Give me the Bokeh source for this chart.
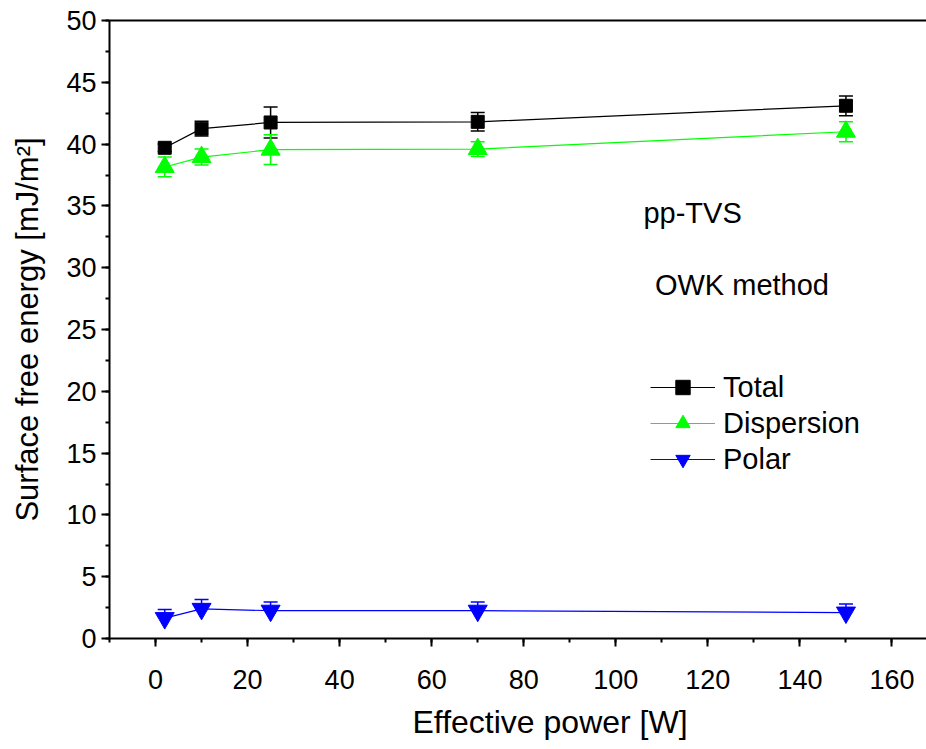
from bokeh.plotting import figure
from bokeh.models import (Range1d, SingleIntervalTicker, FixedTicker, LinearAxis, Whisker,
                          ColumnDataSource, TeeHead, Label, Legend, LegendItem, Title)
from bokeh.embed import file_html
from bokeh.resources import INLINE

# ---- data ----
power = [2, 10, 25, 70, 150]
total = [39.7, 41.25, 41.75, 41.8, 43.1]
total_err = [0.3, 0.6, 1.25, 0.75, 0.8]
dispersion = [38.15, 38.95, 39.55, 39.6, 41.0]
dispersion_err = [0.8, 0.65, 1.2, 0.6, 0.8]
polar = [1.65, 2.4, 2.25, 2.25, 2.1]
polar_err = [0.7, 0.75, 0.7, 0.7, 0.7]

series_names = ["Total", "Dispersion", "Polar"]
x_title = "Effective power [W]"
y_title = "Surface free energy [mJ/m²]"
x_ticks_interval = 20
y_ticks_interval = 5

FONT = "Liberation Sans"

p = figure(width=926, height=749, x_range=Range1d(-10, 167.5), y_range=Range1d(0, 50),
           output_backend="svg", toolbar_location=None,
           min_border_left=109, min_border_right=0, min_border_top=20, min_border_bottom=111)
p.grid.visible = False
p.outline_line_color = None
p.background_fill_color = "white"
p.border_fill_color = "white"

p.xaxis.ticker = SingleIntervalTicker(interval=x_ticks_interval, num_minor_ticks=2)
p.yaxis.ticker = SingleIntervalTicker(interval=y_ticks_interval, num_minor_ticks=2)
for ax in (p.xaxis, p.yaxis):
    ax.axis_line_width = 2
    ax.major_tick_line_width = 2
    ax.minor_tick_line_width = 2
    ax.major_tick_out = 8
    ax.major_tick_in = 0
    ax.minor_tick_out = 4
    ax.minor_tick_in = 0
    ax.major_label_text_font = FONT
    ax.major_label_text_font_size = "27px"
    ax.major_label_text_color = "black"
    ax.axis_label_text_font = FONT
    ax.axis_label_text_font_style = "normal"
    ax.axis_label_text_color = "black"

p.xaxis.major_label_standoff = 23
p.yaxis.axis_label = y_title
p.yaxis.axis_label_text_font_size = "31px"
p.yaxis.major_label_standoff = 5
p.yaxis.axis_label_standoff = 18

top_axis = LinearAxis(ticker=FixedTicker(ticks=[]), major_label_text_font_size="0px",
                      axis_line_width=2, major_tick_out=0, minor_tick_out=0,
                      major_tick_in=0, minor_tick_in=0)
p.add_layout(top_axis, "above")

# x-axis title, placed like the original (whose frame runs past the right edge)
p.add_layout(Title(text=x_title, align="left", offset=303, standoff=20,
                   text_font=FONT, text_font_size="32px", text_font_style="normal",
                   text_color="black"), "below")


def add_series(y, err, color, marker, size, lower_cap=True):
    src = ColumnDataSource(dict(x=power, y=y,
                                lo=[a - b for a, b in zip(y, err)],
                                hi=[a + b for a, b in zip(y, err)]))
    w = Whisker(source=src, base="x", upper="hi", lower="lo",
                line_color=color, line_width=1.5, level="glyph",
                upper_head=TeeHead(size=14, line_color=color, line_width=1.5),
                lower_head=TeeHead(size=14, line_color=color, line_width=1.5) if lower_cap else None)
    p.add_layout(w)
    rl = p.line("x", "y", source=src, line_color=color, line_width=1.2)
    rs = p.scatter("x", "y", source=src, marker=marker, size=size,
                   fill_color=color, line_color=color)
    return [rl, rs]


r_total = add_series(total, total_err, "black", "square", 13)
r_disp = add_series(dispersion, dispersion_err, "#00ff00", "triangle", 19)
r_polar = add_series(polar, polar_err, "#0000ff", "inverted_triangle", 19, lower_cap=False)

legend = Legend(items=[LegendItem(label=series_names[0], renderers=r_total),
                       LegendItem(label=series_names[1], renderers=r_disp),
                       LegendItem(label=series_names[2], renderers=r_polar)],
                location=(541, 161), glyph_width=65, glyph_height=36, spacing=0,
                padding=0, margin=0, label_standoff=8,
                label_text_font=FONT, label_text_font_size="29px", label_text_color="black",
                border_line_color=None, background_fill_alpha=0)
p.add_layout(legend)

p.add_layout(Label(x=106, y=34.4, text="pp-TVS", text_font=FONT, text_font_size="29px",
                   text_baseline="middle", text_color="black"))
p.add_layout(Label(x=108.5, y=28.6, text="OWK method", text_font=FONT, text_font_size="29px",
                   text_baseline="middle", text_color="black"))

open("out.html", "w").write(file_html(p, INLINE))
